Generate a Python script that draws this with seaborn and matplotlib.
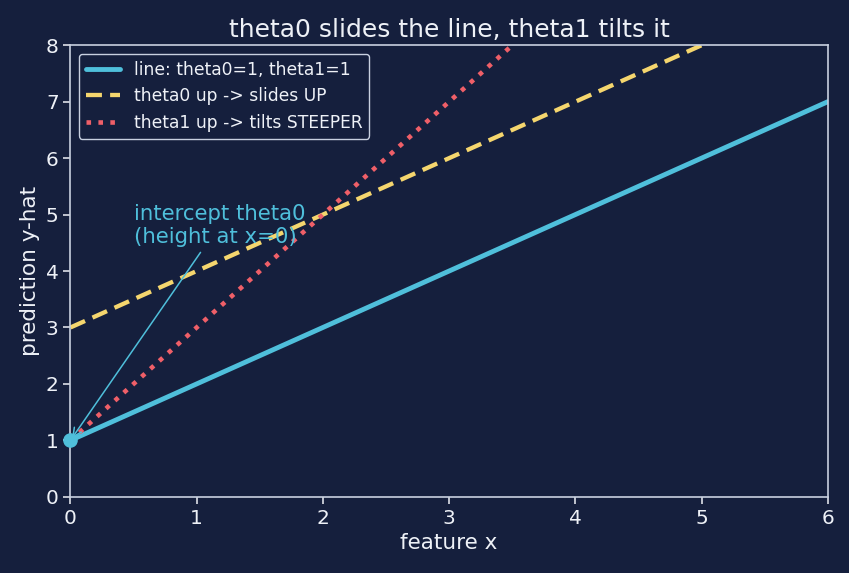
import matplotlib.pyplot as plt
import numpy as np
import pandas as pd
import seaborn as sns

# feature values and the three lines
x_vals = [0, 1, 2, 3, 4, 5, 6]
base_line = [1, 2, 3, 4, 5, 6, 7]          # theta0=1, theta1=1
slide_line = [3, 4, 5, 6, 7, 8, 9]         # theta0=3, theta1=1
tilt_line = [1, 3, 5, 7, 9, 11, 13]        # theta0=1, theta1=2
labels = ['line: theta0=1, theta1=1', 'theta0 up -> slides UP', 'theta1 up -> tilts STEEPER']

bg = '#151f3d'
fg = '#eef1f7'
blue = '#4fbfdb'
yellow = '#f5d66e'
red = '#ef5f68'

sns.set_style('dark')
plt.rcParams['font.family'] = ['DejaVu Sans']

df = pd.DataFrame({'x': x_vals * 3,
                   'y': base_line + slide_line + tilt_line,
                   'line': sum([[l] * len(x_vals) for l in labels], [])})

fig, ax = plt.subplots(figsize=(8.49, 5.73), dpi=100)
fig.set_facecolor(bg)
ax.set_facecolor(bg)

styles = [('-', blue, 3.5), ((0, (3.7, 1.9)), yellow, 3.1), ((0, (1, 1.6)), red, 3.3)]
for lab, (ls, c, lw) in zip(labels, styles):
    sub = df[df['line'] == lab]
    sns.lineplot(data=sub, x='x', y='y', ax=ax, color=c, linestyle=ls, linewidth=lw, label=lab)

ax.scatter([x_vals[0]], [base_line[0]], s=90, color=blue, zorder=5, clip_on=False)

ax.annotate('intercept theta0\n(height at x=0)', xy=(0, 1), xytext=(0.5, 4.5),
            color=blue, fontsize=15.3,
            arrowprops=dict(arrowstyle='->', color=blue, lw=1.1))

ax.set_xlim(0, 6)
ax.set_ylim(0, 8)
ax.set_title('theta0 slides the line, theta1 tilts it', color=fg, fontsize=18)
ax.set_xlabel('feature x', color=fg, fontsize=15.5)
ax.set_ylabel('prediction y-hat', color=fg, fontsize=15.5)
ax.tick_params(colors=fg, labelsize=14.5, length=5, width=1.1, left=True, bottom=True)
for s in ax.spines.values():
    s.set_color('#c8d0e0')
    s.set_linewidth(1.2)
    s.set_visible(True)
ax.grid(False)

leg = ax.legend(loc='upper left', fontsize=12.3, facecolor=bg, edgecolor='#c8d0e0', framealpha=1)
for t in leg.get_texts():
    t.set_color(fg)

plt.subplots_adjust(left=0.083, right=0.975, top=0.921, bottom=0.133)
plt.savefig('out.png', dpi=100, facecolor=bg)
